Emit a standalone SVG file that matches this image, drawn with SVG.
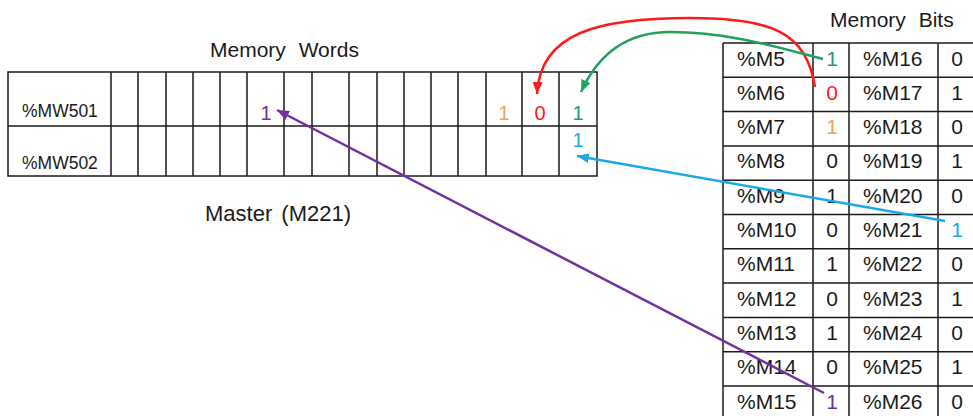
<svg xmlns="http://www.w3.org/2000/svg" width="973" height="416" viewBox="0 0 973 416">
<style>
.grid{stroke:#1a1a1a;stroke-width:1.5;fill:none}
.t{font-family:"Liberation Sans",Arial,sans-serif;fill:#1a1a1a}
.title{font-size:21px;word-spacing:7px}
.lbl{font-size:17.5px}
.cell{font-size:21px}
.v{font-size:21px;text-anchor:middle}
.d{font-family:"Liberation Sans",Arial,sans-serif;font-size:20px;text-anchor:middle}
.arr{fill:none;stroke-width:2.5}
</style>
<defs>
<marker id="mr" markerUnits="userSpaceOnUse" markerWidth="13" markerHeight="11" refX="12" refY="5" orient="auto"><path d="M0,0 L12,5 L0,10 z" fill="#ff1a1a"/></marker>
<marker id="mg" markerUnits="userSpaceOnUse" markerWidth="13" markerHeight="11" refX="12" refY="5" orient="auto"><path d="M0,0 L12,5 L0,10 z" fill="#22a060"/></marker>
<marker id="mb" markerUnits="userSpaceOnUse" markerWidth="13" markerHeight="11" refX="12" refY="5" orient="auto"><path d="M0,0 L12,5 L0,10 z" fill="#1ea7e8"/></marker>
<marker id="mp" markerUnits="userSpaceOnUse" markerWidth="13" markerHeight="11" refX="12" refY="5" orient="auto"><path d="M0,0 L12,5 L0,10 z" fill="#7030a0"/></marker>
</defs>
<rect width="973" height="416" fill="#ffffff"/>

<g id="memory-words">
<text class="t title" x="210" y="57">Memory Words</text>
<rect class="grid" x="8" y="72" width="589" height="104"/>
<path class="grid" d="M8 126H597 M111 72V176 M138 72V176 M166 72V176 M193 72V176 M220 72V176 M247 72V176 M284 72V176 M312 72V176 M349 72V176 M377 72V176 M404 72V176 M431 72V176 M458 72V176 M486 72V176 M522 72V176 M559 72V176"/>
<text class="t lbl" x="22" y="117">%MW501</text>
<text class="t lbl" x="22" y="169">%MW502</text>
<text class="d" x="266" y="120" fill="#7030a0">1</text>
<text class="d" x="504" y="120" fill="#f9a050">1</text>
<text class="d" x="540" y="120" fill="#ff1a1a">0</text>
<text class="d" x="578" y="120" fill="#22a060">1</text>
<text class="d" x="578" y="147" fill="#1ea7e8">1</text>
<text class="t" x="205" y="221" style="font-size:22px;word-spacing:3px">Master (M221)</text>
</g>

<g id="memory-bits">
<text class="t title" x="830" y="27">Memory Bits</text>
<path class="grid" d="M723 43V420 M813 43V420 M849 43V420 M938 43V420 M723 43H980 M723 77.3H980 M723 111.6H980 M723 145.9H980 M723 180.2H980 M723 214.5H980 M723 248.8H980 M723 283.1H980 M723 317.4H980 M723 351.7H980 M723 386H980"/>
<g class="t cell">
<text x="737" y="65.5">%M5</text><text x="863" y="65.5">%M16</text>
<text x="737" y="99.8">%M6</text><text x="863" y="99.8">%M17</text>
<text x="737" y="134.1">%M7</text><text x="863" y="134.1">%M18</text>
<text x="737" y="168.4">%M8</text><text x="863" y="168.4">%M19</text>
<text x="737" y="202.7">%M9</text><text x="863" y="202.7">%M20</text>
<text x="737" y="237">%M10</text><text x="863" y="237">%M21</text>
<text x="737" y="271.3">%M11</text><text x="863" y="271.3">%M22</text>
<text x="737" y="305.6">%M12</text><text x="863" y="305.6">%M23</text>
<text x="737" y="339.9">%M13</text><text x="863" y="339.9">%M24</text>
<text x="737" y="374.2">%M14</text><text x="863" y="374.2">%M25</text>
<text x="737" y="408.5">%M15</text><text x="863" y="408.5">%M26</text>
</g>
<g class="t v">
<text x="832" y="65.5" fill="#22a060">1</text><text x="957" y="65.5">0</text>
<text x="832" y="99.8" fill="#ff1a1a">0</text><text x="957" y="99.8">1</text>
<text x="832" y="134.1" fill="#f9a050">1</text><text x="957" y="134.1">0</text>
<text x="832" y="168.4">0</text><text x="957" y="168.4">1</text>
<text x="832" y="202.7">1</text><text x="957" y="202.7">0</text>
<text x="832" y="237">0</text><text x="957" y="237" fill="#1ea7e8">1</text>
<text x="832" y="271.3">1</text><text x="957" y="271.3">0</text>
<text x="832" y="305.6">0</text><text x="957" y="305.6">1</text>
<text x="832" y="339.9">1</text><text x="957" y="339.9">0</text>
<text x="832" y="374.2">0</text><text x="957" y="374.2">1</text>
<text x="832" y="408.5" fill="#7030a0">1</text><text x="957" y="408.5">0</text>
</g>
</g>

<g id="connectors">
<path class="arr" stroke="#ff1a1a" marker-end="url(#mr)" d="M815 87 C806 32 772 18 690 18 C600 18 540 32 537 94"/>
<path class="arr" stroke="#22a060" marker-end="url(#mg)" d="M823 59 C780 48 730 32 670 32 C630 32 600 50 581 92"/>
<path class="arr" stroke="#1ea7e8" marker-end="url(#mb)" d="M945 221 L577 156"/>
<path class="arr" stroke="#7030a0" marker-end="url(#mp)" d="M824 393 L277 110"/>
</g>
</svg>
